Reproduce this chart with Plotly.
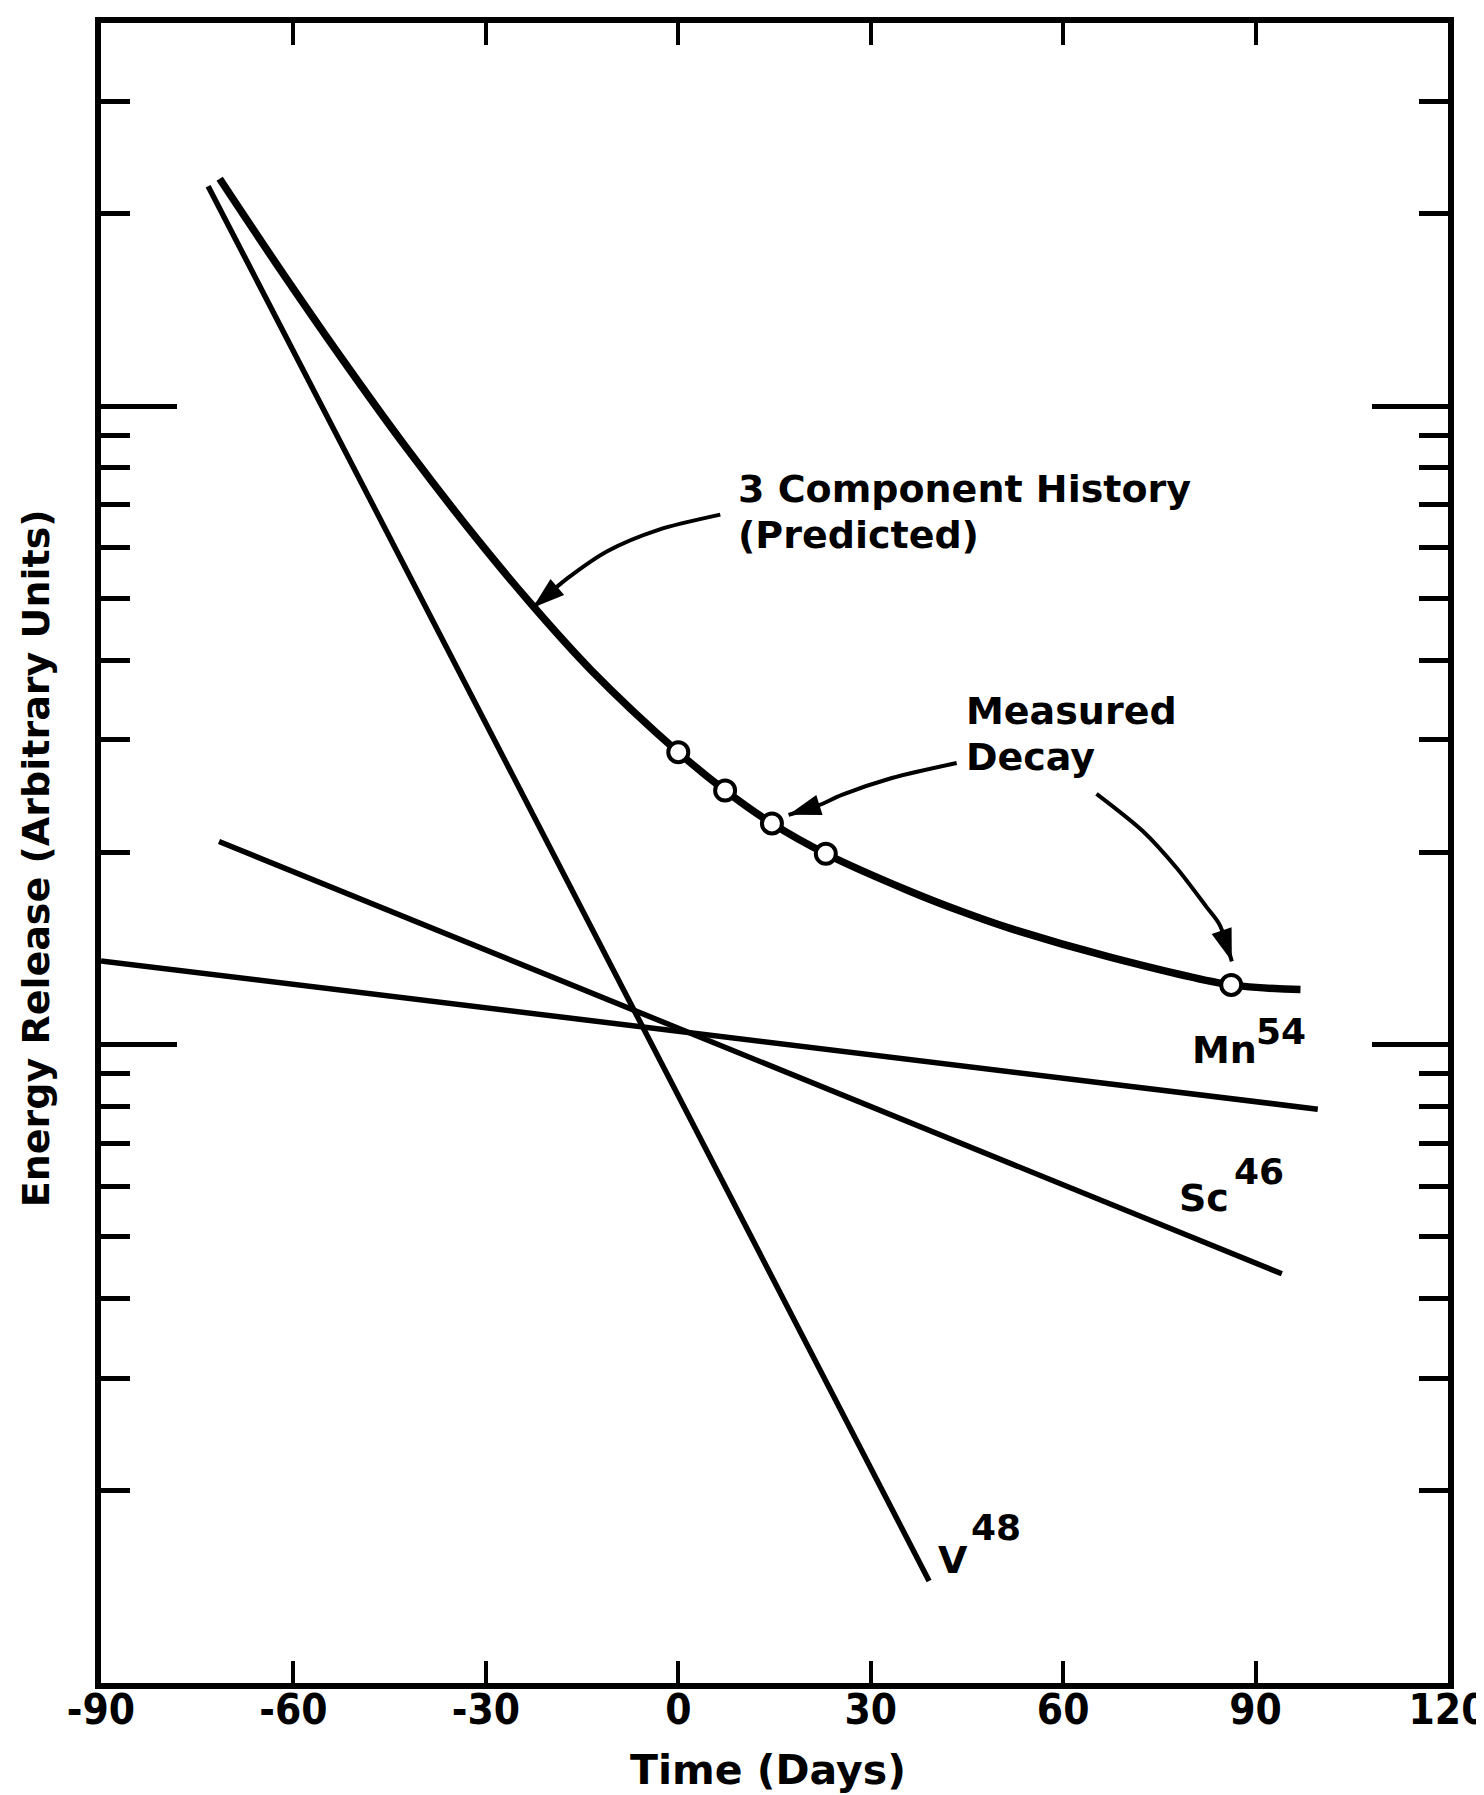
import math
import plotly.graph_objects as go

# ---------------- data ----------------
x_tick_vals = [-90, -60, -30, 0, 30, 60, 90, 120]
x_tick_text = ["-90", "-60", "-30", "0", "30", "60", "90", "120"]
y_major_ticks = [1, 10]
y_minor_ticks = [0.2, 0.3, 0.4, 0.5, 0.6, 0.7, 0.8, 0.9,
                 2, 3, 4, 5, 6, 7, 8, 9, 20, 30]

v48_days = [-73.3, 39.1]
v48_energy = [22.1, 0.1445]

sc46_days = [-71.6, 94.1]
sc46_energy = [2.08, 0.4375]

mn54_days = [-90.0, 99.7]
mn54_energy = [1.352, 0.792]

history_days = [-71.5, -63.0, -52.7, -42.3, -31.7, -23.1, -13.6, 0.0,
                7.3, 14.6, 23.0, 36.0, 44.3, 51.5, 67.3, 86.2, 97.0]
history_energy = [22.7, 16.9, 11.97, 8.58, 6.25, 4.92, 3.86, 2.87,
                  2.50, 2.22, 1.99, 1.74, 1.614, 1.523, 1.371, 1.24, 1.22]

measured_days = [0.0, 7.3, 14.6, 23.0, 86.2]
measured_energy = [2.87, 2.50, 2.22, 1.99, 1.24]

# curved callout arrows (annotation paths, days / energy)
arrow_history_days = [6.55, -3.1, -11.0, -17.2, -22.7]
arrow_history_energy = [6.76, 6.40, 5.93, 5.38, 4.83]
arrow_decay1_days = [43.4, 33.3, 25.5, 21.9, 17.2]
arrow_decay1_energy = [2.76, 2.615, 2.46, 2.37, 2.29]
arrow_decay2_days = [65.2, 72.4, 77.7, 82.4, 84.4, 86.3]
arrow_decay2_energy = [2.47, 2.16, 1.89, 1.64, 1.54, 1.35]

FONT = "DejaVu Sans"
TICK_FONT = "DejaVu Sans Condensed, Liberation Sans Narrow, DejaVu Sans"
BLACK = "black"

fig = go.Figure()

# component lines
for xs, ys in [(v48_days, v48_energy), (sc46_days, sc46_energy), (mn54_days, mn54_energy)]:
    fig.add_trace(go.Scatter(x=xs, y=ys, mode="lines",
                             line=dict(color=BLACK, width=5.5),
                             hoverinfo="skip"))

# predicted 3-component history
fig.add_trace(go.Scatter(x=history_days, y=history_energy, mode="lines",
                         line=dict(color=BLACK, width=7.5, shape="spline", smoothing=0.9),
                         hoverinfo="skip"))

# curved arrows
for xs, ys in [(arrow_history_days, arrow_history_energy),
               (arrow_decay1_days, arrow_decay1_energy),
               (arrow_decay2_days, arrow_decay2_energy)]:
    n = len(xs)
    fig.add_trace(go.Scatter(
        x=xs, y=ys, mode="lines+markers",
        line=dict(color=BLACK, width=4, shape="spline", smoothing=0.8),
        marker=dict(symbol=["circle"] * (n - 1) + ["arrow"],
                    size=[0] * (n - 1) + [34],
                    angleref="previous", color=BLACK, opacity=1,
                    line=dict(width=0)),
        hoverinfo="skip"))

# measured points
fig.add_trace(go.Scatter(x=measured_days, y=measured_energy, mode="markers",
                         marker=dict(symbol="circle", size=20, color="white",
                                     line=dict(color=BLACK, width=4)),
                         hoverinfo="skip"))

L = math.log10


def label(x, y, text, size):
    return dict(x=x, y=L(y), xref="x", yref="y", xanchor="left", yanchor="middle",
                align="left", showarrow=False, text=text,
                font=dict(family=FONT, size=size, color=BLACK, weight="bold"))


annotations = [
    label(9.05, 7.41, "3 Component History", 38),
    label(9.05, 6.29, "(Predicted)", 38),
    label(44.5, 3.33, "Measured", 38),
    label(44.5, 2.82, "Decay", 38),
    label(79.7, 0.982, "Mn", 38),
    label(89.7, 1.05, "54", 36),
    label(77.8, 0.576, "Sc", 38),
    label(86.4, 0.632, "46", 36),
    label(40.15, 0.156, "V", 38),
    label(45.3, 0.175, "48", 36),
    # axis titles
    dict(x=0.495, y=-0.0524, xref="paper", yref="paper", xanchor="center", yanchor="middle",
         showarrow=False, text="Time (Days)",
         font=dict(family=FONT, size=41, color=BLACK, weight="bold")),
    dict(x=-0.048, y=0.497, xref="paper", yref="paper", xanchor="center", yanchor="middle",
         showarrow=False, textangle=-90, text="Energy Release (Arbitrary Units)",
         font=dict(family=FONT, size=38, color=BLACK, weight="bold")),
]

fig.update_layout(
    width=1484, height=1795,
    margin=dict(l=93, r=44, t=15, b=120, pad=0, autoexpand=False),
    paper_bgcolor="white", plot_bgcolor="white",
    showlegend=False,
    annotations=annotations,
    xaxis=dict(range=[-90, 120], tickmode="array", tickvals=x_tick_vals, ticktext=x_tick_text,
               ticks="inside", ticklen=22, tickwidth=4, tickcolor=BLACK,
               showline=True, linewidth=6, linecolor=BLACK, mirror="ticks",
               showgrid=False, zeroline=False, ticklabelstandoff=-15,
               ticklabeloverflow="allow",
               tickfont=dict(family=TICK_FONT, size=42, color=BLACK, weight="bold")),
    yaxis=dict(type="log", range=[-1, 1.6], tickmode="array", tickvals=y_major_ticks,
               ticks="inside", ticklen=76, tickwidth=4.5, tickcolor=BLACK,
               showticklabels=False,
               minor=dict(tickmode="array", tickvals=y_minor_ticks, ticks="inside",
                          ticklen=29, tickwidth=4.5, tickcolor=BLACK, showgrid=False),
               showline=True, linewidth=6, linecolor=BLACK, mirror="ticks",
               showgrid=False, zeroline=False),
)

fig.write_html("out.html")
